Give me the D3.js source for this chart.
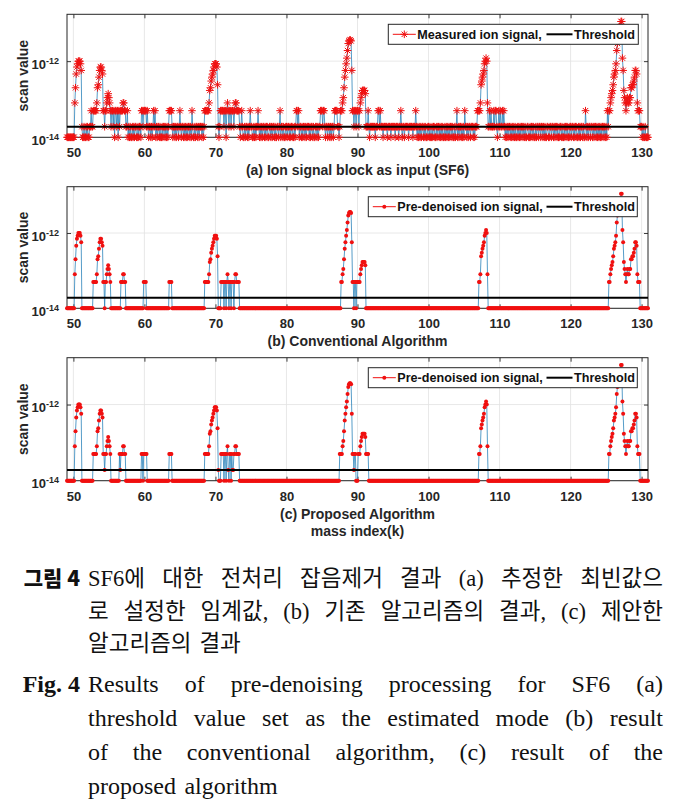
<!DOCTYPE html>
<html><head><meta charset="utf-8">
<script src="https://cdn.jsdelivr.net/npm/d3@7"></script>
<style>body{margin:0;background:#fff} svg{display:block}</style>
</head><body>
<svg id="chart" width="678" height="806"></svg>
<script>
// ================= DATA =================
// Sample codes -> scan values (A). One code per sample, samples every 0.1 mass unit from 49.1.
const levelCodes = "0123456789abcdefghijklmnop";
const levelValues = [1.0e-14, 1.9e-14, 5.0e-14, 8.0e-14, 1.1e-13, 1.4e-13, 1.7e-13, 2.0e-13, 2.4e-13, 3.0e-13,
  3.8e-13, 4.6e-13, 5.7e-13, 7.0e-13, 8.5e-13, 1.0e-12, 1.2e-12, 1.5e-12, 1.9e-12, 2.4e-12,
  2.9e-12, 3.4e-12, 3.6e-12, 5.5e-12, 8.0e-12, 1.1e-11];
const massStart = 49.1, massStep = 0.1;

// (a) measured ion signal, one string per mass unit 49..130
const measuredSignal = [
  "000000000","0037bdefff","ec10010010","1001121122","222378acdd","cb22122345","4321221202","2120212222","3322112010","1001010110", // 49-58
  "0101102212","2221210110","1012120101","1010010110","1010122221","0110101101","2101101010","1011010210","0101101011","1010122222", // 59-68
  "23679abcde","eed8101222","2212202321","2212221233","2222101210","0101101012","1100101011","2101010110","1011001101","0110100110", // 69-78
  "1201101001","1011010110","0101221201","1010110101","1101011010","0110101122","2122101101","1010110122","2211012223","47acegiklm", // 79-88
  "mlc2212212","2212345666","6511121011","1111101112","2121110111","1101111011","1110111101","1210110111","1101111101","1121010101", // 89-98
  "0110101001","1010010110","0101101010","1001010101","0110100101","2010110101","0211010110","1110101112","222389abce","fgf3112121", // 99-108
  "1121221012","1211212101","0101101010","1010010101","0110101001","1001011010","0101101101","1010100110","0110110101","1010011010", // 109-118
  "0101101001","1011010110","0101011010","0210101101","1010110101","0101011010","1021223456","8abceiklno","oppgc64323","4334477889", // 119-128
  "accb322211","1010010000"                                                                                                         // 129-130
];
// (b) conventional algorithm
const conventionalSignal = [
  "000000000","0037bdefff","ec00000000","0000000022","222378acdd","cb22022345","4320000000","0000000222","3322000000","0000000000",
  "0000000002","2220000000","0000000000","0000000000","0000022220","0000000000","0000000000","0000000000","0000000000","0000022222",
  "23679abcde","eed8000022","2202202320","2202220233","2222000000","0000000000","0000000000","0000000000","0000000000","0000000000",
  "0000000000","0000000000","0000000000","0000000000","0000000000","0000000000","0000000000","0000000000","0000000223","47acegiklm",
  "mlc2202202","2222345666","6500000000","0000000000","0000000000","0000000000","0000000000","0000000000","0000000000","0000000000",
  "0000000000","0000000000","0000000000","0000000000","0000000000","0000000000","0000000000","0000000000","022389abce","fgf3000000",
  "0000000000","0000000000","0000000000","0000000000","0000000000","0000000000","0000000000","0000000000","0000000000","0000000000",
  "0000000000","0000000000","0000000000","0000000000","0000000000","0000000000","0000223456","8abceiklno","oppgc64323","4334477889",
  "accb322200","0000000000"
];
// (c) proposed algorithm
const proposedSignal = [
  "000000000","0037bdefff","ec00000000","0000000022","222378acdd","cb22122345","4320000000","0000021222","3322000000","0000000000",
  "0000002202","2222000000","0000000000","0000000000","0000022220","0000000000","0000000000","0000000000","0000000000","0000022222",
  "23679abcde","eed8100022","2202202310","2202112233","2222000000","0000000000","0000000000","0000000000","0000000000","0000000000",
  "0000000000","0000000000","0000000000","0000000000","0000000000","0000000000","0000000000","0000000000","0000022223","47acegiklm",
  "mlc2212200","0222345666","6522220000","0000000000","0000000000","0000000000","0000000000","0000000000","0000000000","0000000000",
  "0000000000","0000000000","0000000000","0000000000","0000000000","0000000000","0000000000","0000000000","022389abce","fgf3000000",
  "0000000000","0000000000","0000000000","0000000000","0000000000","0000000000","0000000000","0000000000","0000000000","0000000000",
  "0000000000","0000000000","0000000000","0000000000","0000000000","0000000000","0000223456","8abceiklno","oppgc64323","4334477889",
  "accb322200","0000000000"
];
const thresholdValue = 1.9e-14;
const xDomain = [49.1, 130.9];
const yDomain = [1e-14, 1.7e-11];
const xTicks = [50, 60, 70, 80, 90, 100, 110, 120, 130];
const yTicks = [1e-14, 1e-12];
const yTickExponents = ["-14", "-12"];
const panelTitles = ["(a) Ion signal block as input (SF6)", "(b) Conventional Algorithm", "(c) Proposed Algorithm"];
const signalLabels = ["Measured ion signal,", "Pre-denoised ion signal,", "Pre-denoised ion signal,"];
const thresholdLabel = "Threshold";
const yLabel = "scan value";
const xLabel = "mass index(k)";
const captionKo = {label: "그림 4",
  lines: ["SF6에 대한 전처리 잡음제거 결과 (a) 추정한 최빈값으",
          "로 설정한 임계값, (b) 기존 알고리즘의 결과, (c) 제안한",
          "알고리즘의 결과"]};
const captionEn = {label: "Fig. 4",
  lines: ["Results of pre-denoising processing for SF6 (a)",
          "threshold value set as the estimated mode (b) result",
          "of the conventional algorithm, (c) result of the",
          "proposed algorithm"]};

// ================= DRAW =================
const svg = d3.select("#chart");
const AX = "'Liberation Sans', Arial, sans-serif";
const lineColor = "#2b83ba", markColor = "#f01010", axisColor = "#262626";

function decode(rows) {
  const codes = rows.join("");
  return Array.from(codes, (c, i) => ({
    mass: +(massStart + i * massStep).toFixed(1),
    value: levelValues[levelCodes.indexOf(c)]
  }));
}

const panels = [
  {data: measuredSignal, top: 14.3, bottom: 137.3, marker: "star", legX: [388.3, 638.3]},
  {data: conventionalSignal, top: 186.7, bottom: 308.3, marker: "dot", legX: [368.3, 637.3]},
  {data: proposedSignal, top: 357.7, bottom: 480.7, marker: "dot", legX: [368.3, 637.3]}
];
const X0 = 67, X1 = 648;

function starPath(r) {
  const d = r * 0.707;
  return `M${-r},0L${r},0M0,${-r}L0,${r}M${-d},${-d}L${d},${d}M${-d},${d}L${d},${-d}`;
}

panels.forEach((p, pi) => {
  const pts = decode(p.data);
  const x = d3.scaleLinear().domain(xDomain).range([X0, X1]);
  const y = d3.scaleLog().domain(yDomain).range([p.bottom, p.top]);
  const g = svg.append("g");

  // grid
  g.append("g").selectAll("line").data(xTicks).join("line")
    .attr("x1", d => x(d)).attr("x2", d => x(d)).attr("y1", p.top).attr("y2", p.bottom)
    .attr("stroke", "#e2e2e2").attr("stroke-width", 0.8);
  g.append("g").selectAll("line").data(yTicks).join("line")
    .attr("x1", X0).attr("x2", X1).attr("y1", d => y(d)).attr("y2", d => y(d))
    .attr("stroke", "#e2e2e2").attr("stroke-width", 0.8);

  // axes (ticks inside, box)
  const axB = d3.axisBottom(x).tickValues(xTicks).tickSize(-4).tickPadding(10.8).tickFormat(d3.format("d"));
  const gb = g.append("g").attr("transform", `translate(0,${p.bottom})`).call(axB);
  const axT = d3.axisTop(x).tickValues(xTicks).tickSize(-4).tickFormat("");
  const gt = g.append("g").attr("transform", `translate(0,${p.top})`).call(axT);
  const axL = d3.axisLeft(y).tickValues(yTicks).tickSize(-4).tickFormat("");
  const gl = g.append("g").attr("transform", `translate(${X0},0)`).call(axL);
  const axR = d3.axisRight(y).tickValues(yTicks).tickSize(-4).tickFormat("");
  const gr = g.append("g").attr("transform", `translate(${X1},0)`).call(axR);
  [gb, gt, gl, gr].forEach(a => {
    a.select(".domain").remove();
    a.selectAll(".tick line").attr("stroke", axisColor).attr("stroke-width", 0.9);
  });
  gb.selectAll(".tick text").attr("font-family", AX).attr("font-weight", "bold")
    .attr("font-size", 13).attr("fill", axisColor);
  g.append("rect").attr("x", X0).attr("y", p.top).attr("width", X1 - X0).attr("height", p.bottom - p.top)
    .attr("fill", "none").attr("stroke", axisColor).attr("stroke-width", 1);

  // y tick labels 10^n
  yTicks.forEach((t, i) => {
    const tx = g.append("text").attr("x", 59).attr("y", y(t) + 7.6)
      .attr("text-anchor", "end").attr("font-family", AX).attr("font-weight", "bold").attr("fill", axisColor);
    tx.append("tspan").attr("font-size", 13).text("10");
    tx.append("tspan").attr("font-size", 9).attr("dy", -5).text(yTickExponents[i]);
  });

  // y label
  g.append("text").attr("transform", `translate(28,${(p.top + p.bottom) / 2}) rotate(-90)`)
    .attr("text-anchor", "middle").attr("font-family", AX).attr("font-weight", "bold")
    .attr("font-size", 14).attr("fill", axisColor).text(yLabel);

  // signal line
  const line = d3.line().x(d => x(d.mass)).y(d => y(d.value));
  g.append("path").datum(pts).attr("d", line).attr("fill", "none")
    .attr("stroke", lineColor).attr("stroke-width", 0.8);

  // markers
  if (p.marker === "star") {
    g.append("g").selectAll("path").data(pts).join("path")
      .attr("transform", d => `translate(${x(d.mass)},${y(d.value)})`)
      .attr("d", starPath(3.8)).attr("fill", "none").attr("stroke", markColor).attr("stroke-width", 1);
  } else {
    g.append("g").selectAll("circle").data(pts).join("circle")
      .attr("cx", d => x(d.mass)).attr("cy", d => y(d.value)).attr("r", 2).attr("fill", markColor);
  }

  // threshold
  g.append("line").attr("x1", X0).attr("x2", X1).attr("y1", y(thresholdValue)).attr("y2", y(thresholdValue))
    .attr("stroke", "#000").attr("stroke-width", 2);

  // legend
  const ly0 = p.top + 10, ly1 = p.top + 30, lc = (ly0 + ly1) / 2;
  const lg = g.append("g");
  lg.append("rect").attr("x", p.legX[0]).attr("y", ly0).attr("width", p.legX[1] - p.legX[0]).attr("height", ly1 - ly0)
    .attr("fill", "#fff").attr("stroke", axisColor).attr("stroke-width", 1);
  const sx0 = p.legX[0] + 4.5, sx1 = p.legX[0] + 27.5, smid = (sx0 + sx1) / 2;
  lg.append("line").attr("x1", sx0).attr("x2", sx1).attr("y1", lc).attr("y2", lc).attr("stroke", markColor).attr("stroke-width", 1);
  if (p.marker === "star") {
    lg.append("path").attr("transform", `translate(${smid},${lc})`).attr("d", starPath(3.8))
      .attr("fill", "none").attr("stroke", markColor).attr("stroke-width", 1);
  } else {
    lg.append("circle").attr("cx", smid).attr("cy", lc).attr("r", 2).attr("fill", markColor);
  }
  lg.append("text").attr("x", sx1 + 1.5).attr("y", lc + 4.5).attr("font-family", AX)
    .attr("font-weight", "bold").attr("font-size", 12.6).attr("fill", "#111").text(signalLabels[pi]);
  lg.append("line").attr("x1", 546.5).attr("x2", 572.5).attr("y1", lc).attr("y2", lc).attr("stroke", "#000").attr("stroke-width", 2);
  lg.append("text").attr("x", 574).attr("y", lc + 4.5).attr("font-family", AX)
    .attr("font-weight", "bold").attr("font-size", 12.6).attr("fill", "#111").text(thresholdLabel);

  // panel title
  g.append("text").attr("x", (X0 + X1) / 2).attr("y", p.bottom + 37.8).attr("text-anchor", "middle")
    .attr("font-family", AX).attr("font-weight", "bold").attr("font-size", 14).attr("fill", axisColor)
    .text(panelTitles[pi]);
});

svg.append("text").attr("x", (X0 + X1) / 2).attr("y", 535.5).attr("text-anchor", "middle")
  .attr("font-family", AX).attr("font-weight", "bold").attr("font-size", 14).attr("fill", axisColor).text(xLabel);

// ================= CAPTION =================
function justify(str, x0, x1, yb, family, size, doJustify) {
  const words = str.split(" ");
  const t = svg.append("text").attr("y", yb).attr("font-family", family).attr("font-size", size).attr("fill", "#111");
  const spans = words.map(w => t.append("tspan").text(w));
  const widths = spans.map(s => s.node().getComputedTextLength());
  const total = d3.sum(widths);
  const gap = doJustify && words.length > 1 ? (x1 - x0 - total) / (words.length - 1) : size * 0.35;
  let cx = x0;
  spans.forEach((s, i) => { s.attr("x", cx); cx += widths[i] + gap; });
}
const KO = "'Liberation Serif', 'Noto Sans CJK KR', serif";
const EN = "'Liberation Serif', 'Times New Roman', serif";
const CX0 = 88, CX1 = 663;
const koBase = [586, 619, 651], enBase = [692, 726, 760, 794];

svg.append("text").attr("x", 80).attr("y", koBase[0]).attr("text-anchor", "end")
  .attr("font-family", "'Noto Sans CJK KR', sans-serif").attr("font-weight", 900).attr("font-size", 21)
  .attr("fill", "#111").text(captionKo.label);
captionKo.lines.forEach((l, i) => justify(l, CX0, CX1, koBase[i], KO, 22.5, i < captionKo.lines.length - 1));

svg.append("text").attr("x", 80).attr("y", enBase[0]).attr("text-anchor", "end")
  .attr("font-family", EN).attr("font-weight", "bold").attr("font-size", 24)
  .attr("fill", "#111").text(captionEn.label);
captionEn.lines.forEach((l, i) => justify(l, CX0, CX1, enBase[i], EN, 24, i < captionEn.lines.length - 1));
</script>
</body></html>
